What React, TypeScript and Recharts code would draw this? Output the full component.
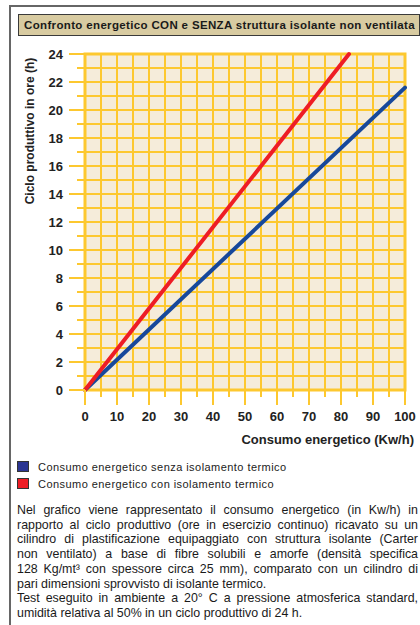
import React from 'react'
import { LineChart, Line, XAxis, YAxis, CartesianGrid, ReferenceArea, Label } from 'recharts'

// consumo energetico (Kw/h) -> ciclo produttivo (h)
const senzaIsolamento = [
  { x: 0, y: 0 },
  { x: 100, y: 21.6 },
]
const conIsolamento = [
  { x: 0, y: 0 },
  { x: 82.5, y: 24 },
]

const xTicks = [0, 5, 10, 15, 20, 25, 30, 35, 40, 45, 50, 55, 60, 65, 70, 75, 80, 85, 90, 95, 100]
const yTicks = [0, 1, 2, 3, 4, 5, 6, 7, 8, 9, 10, 11, 12, 13, 14, 15, 16, 17, 18, 19, 20, 21, 22, 23, 24]

const legendItems = [
  { label: 'Consumo energetico senza isolamento termico', color: '#2b3592' },
  { label: 'Consumo energetico con isolamento termico', color: '#ee1d25' },
]

const paragraphLines = [
  { text: 'Nel grafico viene rappresentato il consumo energetico (in Kw/h) in', justify: true },
  { text: 'rapporto al ciclo produttivo (ore in esercizio continuo) ricavato su un', justify: true },
  { text: 'cilindro di plastificazione equipaggiato con struttura isolante (Carter', justify: true },
  { text: 'non ventilato) a base di fibre solubili e amorfe (densità specifica', justify: true },
  { text: '128 Kg/mt³ con spessore circa 25 mm), comparato con un cilindro di', justify: true },
  { text: 'pari dimensioni sprovvisto di isolante termico.', justify: false },
  { text: 'Test eseguito in ambiente a 20° C a pressione atmosferica standard,', justify: true },
  { text: 'umidità relativa al 50% in un ciclo produttivo di 24 h.', justify: false },
]

const YELLOW = '#fdc82f'
const FONT = '"Liberation Sans", Arial, sans-serif'

function YTick(props: any) {
  const { x, y, payload } = props
  const major = payload.value % 2 === 0
  return (
    <g>
      <line x1={x - (major ? 16 : 8)} x2={x} y1={y} y2={y} stroke={YELLOW} strokeWidth={2} />
      {major && (
        <text x={x - 22} y={y} textAnchor="end" dominantBaseline="central"
          fontFamily={FONT} fontSize={13} fontWeight="bold" fill="#222">
          {payload.value}
        </text>
      )}
    </g>
  )
}

function XTick(props: any) {
  const { x, y, payload } = props
  const major = payload.value % 10 === 0
  return (
    <g>
      <line x1={x} x2={x} y1={y} y2={y + (major ? 15 : 7)} stroke={YELLOW} strokeWidth={2} />
      {major && (
        <text x={x} y={y + 26} textAnchor="middle" dominantBaseline="central"
          fontFamily={FONT} fontSize={13} fontWeight="bold" fill="#222">
          {payload.value}
        </text>
      )}
    </g>
  )
}

export default function App() {
  return (
    <div style={{ position: 'absolute', left: 0, top: 0, width: 420, height: 625, overflow: 'hidden', background: '#fff', fontFamily: FONT }}>
      <div style={{ position: 'absolute', left: 9, top: 5, width: 440, height: 700, borderLeft: '2px solid #666', borderTop: '2px solid #666' }} />

      <div style={{
        position: 'absolute', left: 18, top: 14, width: 395, height: 20,
        background: '#d8cba1', border: '1.5px solid #3a3a3a',
        fontSize: 11.5, fontWeight: 'bold', letterSpacing: 0.35, color: '#1a1a1a',
        lineHeight: '20px', paddingLeft: 5, whiteSpace: 'nowrap', boxSizing: 'content-box',
      }}>
        Confronto energetico CON e SENZA struttura isolante non ventilata
      </div>

      <div style={{ position: 'absolute', left: 0, top: 0 }}>
        <LineChart width={420} height={450} margin={{ top: 54, right: 15, bottom: 0, left: 25 }}>
          <CartesianGrid stroke={YELLOW} strokeWidth={2} fill="#f5ecda" fillOpacity={1} />
          <XAxis type="number" dataKey="x" domain={[0, 100]} ticks={xTicks} interval={0}
            tick={<XTick />} tickSize={0} tickMargin={0} tickLine={false} axisLine={false} height={60}>
            <Label content={() => (
              <text x={414} y={439} textAnchor="end" dominantBaseline="central"
                fontFamily={FONT} fontSize={13} fontWeight="bold" fill="#222">
                Consumo energetico (Kw/h)
              </text>
            )} />
          </XAxis>
          <YAxis type="number" domain={[0, 24]} ticks={yTicks} interval={0}
            tick={<YTick />} tickSize={0} tickMargin={0} tickLine={false} axisLine={false} width={60}>
            <Label content={() => (
              <text x={30} y={131} transform="rotate(-90 30 131)" textAnchor="middle" dominantBaseline="central"
                fontFamily={FONT} fontSize={12} fontWeight="bold" fill="#222">
                Ciclo produttivo in ore (h)
              </text>
            )} />
          </YAxis>
          <ReferenceArea x1={0} x2={100} y1={0} y2={24} fill="none" stroke={YELLOW} strokeWidth={3} />
          <Line data={senzaIsolamento} dataKey="y" stroke="#17489b" strokeWidth={4} dot={false}
            isAnimationActive={false} strokeLinecap="round" />
          <Line data={conIsolamento} dataKey="y" stroke="#ee1d25" strokeWidth={4} dot={false}
            isAnimationActive={false} strokeLinecap="round" />
        </LineChart>
      </div>

      {legendItems.map((item, i) => (
        <div key={item.label} style={{ position: 'absolute', left: 17, top: 461 + i * 17, height: 11, display: 'flex', alignItems: 'center' }}>
          <div style={{ width: 10, height: 9, background: item.color, border: '1px solid #333' }} />
          <span style={{ marginLeft: 9, fontSize: 11, letterSpacing: 0.45, color: '#222', whiteSpace: 'nowrap' }}>{item.label}</span>
        </div>
      ))}

      <div style={{ position: 'absolute', left: 17, top: 503, width: 401, fontSize: 12.4, lineHeight: '14.7px', color: '#1a1a1a' }}>
        {paragraphLines.map((l, i) => (
          <div key={i} style={{ textAlign: l.justify ? 'justify' : 'left', textAlignLast: l.justify ? 'justify' : 'left', whiteSpace: 'nowrap' }}>
            {l.text}
          </div>
        ))}
      </div>
    </div>
  )
}
